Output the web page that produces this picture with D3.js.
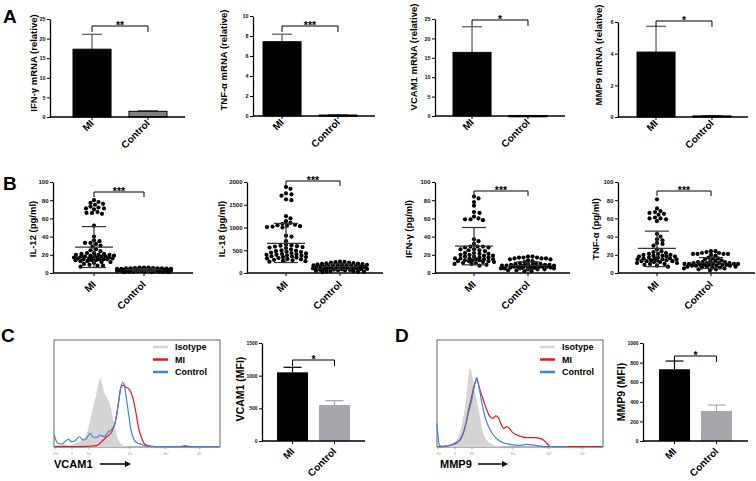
<!DOCTYPE html>
<html><head><meta charset="utf-8">
<script src="https://cdn.jsdelivr.net/npm/d3@7"></script>
<style>body{margin:0;background:#fff}svg{display:block}text{font-family:'Liberation Sans',Arial,Helvetica,sans-serif}</style>
</head><body><svg id="c" width="756" height="481"></svg>
<script>
// ================= DATA =================
const groups = ["MI", "Control"];

// Panel A : relative mRNA (mean, SEM)
const mrnaLabels = ["IFN-γ mRNA (relative)", "TNF-α mRNA (relative)", "VCAM1 mRNA (relative)", "MMP9 mRNA (relative)"];
const mrnaMean = [[17.3, 1.45], [7.43, 0.1], [16.4, 0.1], [4.1, 0.07]];
const mrnaErr = [[3.8, 0.15], [0.75, 0.02], [6.6, 0.02], [1.63, 0.02]];
const mrnaTicks = [[0, 5, 10, 15, 20, 25], [0, 2, 4, 6, 8, 10], [0, 5, 10, 15, 20, 25], [0, 2, 4, 6]];
const mrnaSig = ["**", "***", "*", "*"];

// Panel B : serum cytokines (individual points, mean, SD)
const cytoLabels = ["IL-12 (pg/ml)", "IL-18 (pg/ml)", "IFN-γ (pg/ml)", "TNF-α (pg/ml)"];
const cytoTicks = [[0, 20, 40, 60, 80, 100], [0, 500, 1000, 1500, 2000], [0, 20, 40, 60, 80, 100], [0, 20, 40, 60, 80, 100]];
const il12MI = [80, 78, 77, 76, 75, 73, 72, 71, 71, 70, 67, 66, 66, 65, 52, 40, 36, 35, 33, 33, 32, 30, 29, 26, 25, 24, 22, 22, 21, 21, 20, 20, 20, 19, 19, 19, 18, 18, 18, 18, 17, 17, 17, 16, 16, 16, 16, 15, 15, 15, 15, 14, 14, 14, 13, 13, 12, 12, 11, 10, 9, 8, 8, 7];
const il12Ctrl = [6, 6, 5.8, 5.5, 5.5, 5.2, 5, 5, 5, 4.8, 4.6, 4.5, 4.5, 4.3, 4.2, 4, 4, 4, 3.9, 3.8, 3.6, 3.5, 3.5, 3.4, 3.3, 3.2, 3, 3, 3, 2.9, 2.8, 2.7, 2.6, 2.5, 2.5, 2.4, 2.3, 2.2, 2, 2, 2, 1.9, 1.8, 1.6, 1.5, 1.4, 1.2, 1, 1, 0.8];
const il18MI = [1890, 1850, 1750, 1730, 1700, 1620, 1600, 1250, 1200, 1140, 1100, 1080, 1060, 1050, 1040, 1030, 1020, 1010, 1000, 820, 800, 700, 620, 610, 600, 590, 580, 570, 560, 550, 520, 500, 490, 480, 470, 460, 450, 440, 430, 420, 410, 400, 400, 390, 380, 370, 360, 350, 350, 340, 330, 320, 310, 300, 290, 280, 270, 260, 250];
const il18Ctrl = [250, 245, 238, 230, 226, 220, 214, 205, 200, 198, 192, 185, 180, 176, 170, 168, 160, 155, 150, 148, 142, 140, 136, 130, 128, 125, 120, 118, 112, 110, 105, 100, 98, 95, 90, 88, 82, 80, 75, 70, 66, 60, 55, 50, 45, 40, 35, 30, 25, 20];
const ifngMI = [84, 82, 78, 74, 67, 66, 62, 60, 59, 59, 58, 37, 35, 32, 29, 29, 29, 28, 28, 26, 26, 25, 25, 24, 22, 22, 21, 21, 20, 20, 19, 19, 18, 18, 17, 17, 16, 16, 16, 15, 15, 15, 14, 14, 14, 13, 13, 13, 12, 12, 11, 11, 10, 10, 9, 8];
const ifngCtrl = [18, 18, 17, 17, 17, 16, 16, 16, 15, 15, 14, 13, 12, 11, 11, 10, 10, 10, 9, 9, 9, 9, 8, 8, 8, 8, 8, 8, 7, 7, 7, 7, 7, 7, 6, 6, 6, 6, 6, 5, 5, 5, 5, 4, 4, 4, 3, 3, 2, 2];
const tnfMI = [81, 71, 68, 67, 66, 65, 64, 61, 60, 60, 59, 57, 43, 40, 37, 36, 33, 32, 30, 26, 24, 23, 22, 21, 21, 20, 20, 19, 19, 18, 18, 18, 17, 17, 16, 16, 16, 15, 15, 15, 14, 14, 14, 13, 13, 13, 12, 12, 11, 11, 10, 10, 9, 8, 7];
const tnfCtrl = [24, 24, 23, 22, 22, 21, 21, 21, 21, 20, 19, 17, 16, 16, 15, 14, 13, 13, 12, 12, 12, 11, 11, 11, 11, 10, 10, 10, 10, 10, 9, 9, 9, 9, 9, 8, 8, 8, 8, 7, 7, 7, 6, 6, 6, 5, 5, 4, 4, 3];
const cytoPoints = [[il12MI, il12Ctrl], [il18MI, il18Ctrl], [ifngMI, ifngCtrl], [tnfMI, tnfCtrl]];
// [mean, upper SD, lower SD] per group
const cytoStats = [
  [[28.5, 51, 6], [3.5, 5, 2]],
  [[650, 1090, 230], [140, 200, 80]],
  [[29.5, 50, 9], [8, 12, 4]],
  [[27, 46, 7], [11, 17, 5]]
];

// Panel C/D : flow cytometry histograms (channel, % of max)
const histLegend = ["Isotype", "MI", "Control"];
const histTickCh = [6, 111, 216, 469, 691, 900];
const histTickLab = ["−10²", "0", "10²", "10³", "10⁴", "10⁵"];
const vcamIsoCh = [6, 57, 99, 140, 171, 197, 212, 226, 242, 257, 270, 284, 296, 308, 325, 339, 356, 370, 387, 403, 424, 458];
const vcamIsoPct = [0.9, 2.8, 1.6, 4.0, 6.5, 11.2, 17.4, 26.8, 37.7, 47.0, 55.8, 64.2, 59.5, 51.7, 47.0, 42.3, 33.0, 22.1, 11.2, 5.0, 1.9, 0.3];
const vcamMiCh = [4, 139, 201, 263, 284, 304, 325, 356, 376, 391, 403, 413, 428, 444, 458, 473, 490, 506, 520, 541, 561, 592, 654, 1020];
const vcamMiPct = [0.3, 0.3, 0.6, 1.2, 3.5, 6.5, 9.6, 14.3, 22.1, 34.6, 47.0, 55.8, 57.9, 55.8, 54.8, 51.7, 43.9, 31.5, 19.0, 8.1, 2.5, 0.9, 0.3, 0.3];
const vcamCtrlCh = [2, 20, 47, 68, 88, 109, 130, 156, 181, 201, 222, 243, 267, 284, 309, 335, 356, 372, 387, 399, 411, 424, 436, 448, 461, 473, 490, 510, 541, 572, 634, 777, 808, 839, 1020];
const vcamCtrlPct = [11.2, 4.0, 2.8, 5.0, 7.2, 5.0, 5.9, 9.6, 6.5, 8.1, 12.8, 9.1, 9.1, 11.2, 9.6, 14.3, 16.5, 20.6, 29.9, 42.3, 54.8, 60.5, 55.8, 43.9, 29.9, 17.5, 8.1, 4.0, 2.5, 0.9, 0.3, 0.3, 1.2, 0.3, 0.3];
const mmpIsoCh = [60, 91, 111, 132, 146, 159, 173, 183, 193, 204, 216, 228, 245, 261, 276, 290, 307, 337, 368, 409];
const mmpIsoPct = [0.3, 2.8, 5.0, 9.6, 15.9, 25.2, 37.7, 50.2, 65.7, 73.6, 67.3, 56.4, 43.9, 31.5, 19.0, 11.2, 6.5, 2.8, 0.9, 0.3];
const mmpMiCh = [8, 60, 101, 142, 162, 179, 195, 214, 230, 245, 265, 286, 307, 327, 344, 364, 381, 395, 413, 430, 446, 467, 492, 522, 553, 594, 635, 656, 677, 693, 718, 1020];
const mmpMiPct = [0.3, 0.9, 2.8, 6.5, 12.8, 22.1, 34.6, 47.0, 57.9, 62.6, 53.3, 43.9, 34.6, 28.3, 26.8, 29.0, 26.8, 21.5, 17.5, 19.0, 17.5, 13.4, 11.2, 9.6, 8.7, 8.7, 8.1, 6.5, 3.5, 0.9, 0.3, 0.3];
const mmpCtrlCh = [0, 14, 29, 60, 91, 122, 152, 173, 193, 214, 230, 245, 257, 270, 286, 302, 323, 347, 378, 409, 450, 512, 553, 594, 635, 677, 800];
const mmpCtrlPct = [22.1, 1.9, 0.3, 0.9, 1.9, 4.0, 9.6, 19.0, 31.5, 43.9, 56.4, 65.1, 57.9, 47.0, 34.6, 25.2, 17.5, 11.2, 6.5, 4.0, 2.5, 1.6, 2.5, 1.9, 0.9, 0.3, 0.3];

// Panel C/D : MFI bar charts
const mfiLabels = ["VCAM1 (MFI)", "MMP9 (MFI)"];
const mfiMean = [[1051, 551], [732, 306]];
const mfiErr = [[77, 66], [84, 61]];
const mfiTicks = [[0, 500, 1000, 1500], [0, 200, 400, 600, 800, 1000]];
const mfiSig = ["*", "*"];
const markerNames = ["VCAM1", "MMP9"];

// ================= DRAW =================
const FF = "'Liberation Sans', Arial, Helvetica, sans-serif";
const svg = d3.select("#c");

function yAxis(g, y, ticks, x, fs) {
  const a = g.append("g").attr("transform", `translate(${x},0)`)
    .call(d3.axisLeft(y).tickValues(ticks).tickSize(3).tickSizeOuter(0).tickPadding(1.5).tickFormat(d3.format("d")));
  a.select(".domain").attr("stroke", "#000").attr("stroke-width", 1.3);
  a.selectAll(".tick line").attr("stroke", "#000").attr("stroke-width", 1);
  a.selectAll(".tick text").attr("font-size", fs).attr("font-weight", "bold").attr("font-family", FF).attr("fill", "#111");
}
function xAxis(g, x0, x1, y0, centers, dy) {
  g.append("line").attr("x1", x0).attr("x2", x1).attr("y1", y0).attr("y2", y0).attr("stroke", "#000").attr("stroke-width", 1.3);
  centers.forEach((c, i) => {
    g.append("line").attr("x1", c).attr("x2", c).attr("y1", y0).attr("y2", y0 + 3).attr("stroke", "#000").attr("stroke-width", 1);
    g.append("text").attr("transform", `translate(${c + 2.5},${y0 + dy}) rotate(-45)`).attr("text-anchor", "end")
      .attr("font-size", 10).attr("font-weight", "bold").text(groups[i]);
  });
}
function yLabel(g, text, x, y, fs) {
  g.append("text").attr("transform", `translate(${x},${y}) rotate(-90)`).attr("text-anchor", "middle")
    .attr("font-size", fs).attr("font-weight", "bold").text(text);
}
function bracket(g, xa, xb, y, drop, star) {
  g.append("path").attr("d", `M${xa},${y + drop}V${y}H${xb}V${y + drop}`).attr("fill", "none").attr("stroke", "#000").attr("stroke-width", 1);
  g.append("text").attr("x", (xa + xb) / 2).attr("y", y + 2.5).attr("text-anchor", "middle").attr("font-size", 10.5).attr("font-weight", "bold").text(star);
}
function panelLetter(t, x, y) {
  svg.append("text").attr("x", x).attr("y", y).attr("font-size", 19).attr("font-weight", "bold").text(t);
}

// ---- Panel A ----
panelLetter("A", 3, 23);
const layA = [
  {ax: 50, ex: 185, b0: 73, b1: 167, top: 19, bot: 117, lx: 37, ly: 63, br: 26},
  {ax: 253, ex: 375, b0: 263, b1: 357, top: 16, bot: 116, lx: 227, ly: 60, br: 26},
  {ax: 435, ex: 565, b0: 453, b1: 547, top: 19, bot: 116, lx: 417, ly: 57, br: 20},
  {ax: 618, ex: 748, b0: 637, b1: 731, top: 22, bot: 117, lx: 602, ly: 55, br: 21}
];
layA.forEach((L, k) => {
  const g = svg.append("g");
  const ticks = mrnaTicks[k];
  const y = d3.scaleLinear().domain([0, ticks[ticks.length - 1]]).range([L.bot, L.top]);
  const x = d3.scaleBand().domain(groups).range([L.b0, L.b1]).paddingInner(0.32).paddingOuter(0);
  const bw = x.bandwidth();
  groups.forEach((gr, i) => {
    const v = mrnaMean[k][i], e = mrnaErr[k][i], cx = x(gr) + bw / 2;
    g.append("line").attr("x1", cx).attr("x2", cx).attr("y1", y(v)).attr("y2", y(v + e)).attr("stroke", "#555").attr("stroke-width", 1.2);
    g.append("line").attr("x1", cx - 10).attr("x2", cx + 10).attr("y1", y(v + e)).attr("y2", y(v + e)).attr("stroke", "#555").attr("stroke-width", 1.2);
    const fill = (k === 0 && i === 1) ? "#808080" : "#000";
    g.append("rect").attr("x", x(gr)).attr("width", bw).attr("y", y(v)).attr("height", Math.max(1.2, L.bot - y(v)))
      .attr("fill", fill).attr("stroke", "#000").attr("stroke-width", 1);
  });
  yAxis(g, y, ticks, L.ax, 5.5);
  xAxis(g, L.ax, L.ex, L.bot, groups.map(gr => x(gr) + bw / 2), 7);
  yLabel(g, mrnaLabels[k], L.lx, L.ly, 9.5);
  bracket(g, x("MI") + bw / 2, x("Control") + bw / 2, L.br, 6, mrnaSig[k]);
});

// ---- Panel B ----
panelLetter("B", 3, 190);
const layB = [
  {ax: 53, ex: 193, c: [94, 144], top: 182, bot: 273, lx: 36, ly: 229, br: 192},
  {ax: 247, ex: 383, c: [286, 340], top: 182, bot: 273, lx: 225, ly: 229, br: 181},
  {ax: 435, ex: 570, c: [474, 528], top: 182, bot: 273, lx: 412, ly: 229, br: 191},
  {ax: 618, ex: 755, c: [657, 711], top: 182, bot: 273, lx: 599, ly: 229, br: 191}
];
// bounded, row-style beeswarm (elliptical spacing: wider horizontally, like GraphPad)
function swarm(vals, y, cx, sx, sy, W) {
  const pts = vals.map(v => ({v, y: y(v)})).sort((a, b) => d3.descending(a.v, b.v));
  const placed = [];
  const dist = (q, x, yy) => Math.hypot((q.x - x) / sx, (q.y - yy) / sy);
  for (const p of pts) {
    let bestO = 0, bestD = -1;
    for (let k = 0; ; k++) {
      const o = k === 0 ? 0 : (k % 2 ? 1 : -1) * Math.ceil(k / 2) * 0.5;
      if (Math.abs(o) > W) break;
      const md = placed.length ? d3.min(placed, q => dist(q, cx + o, p.y)) : Infinity;
      if (md >= 1) { bestO = o; bestD = md; break; }
      if (md > bestD + 0.08) { bestD = md; bestO = o; }
    }
    p.x = cx + bestO;
    placed.push(p);
  }
  return placed;
}
layB.forEach((L, k) => {
  const g = svg.append("g");
  const ticks = cytoTicks[k];
  const y = d3.scaleLinear().domain([0, ticks[ticks.length - 1]]).range([L.bot, L.top]);
  groups.forEach((gr, i) => {
    const pts = i === 0 ? swarm(cytoPoints[k][i], y, L.c[i], 5.2, 3.6, 20) : swarm(cytoPoints[k][i], y, L.c[i], 4.2, 3.2, 27);
    g.selectAll(null).data(pts).enter().append("circle").attr("cx", d => d.x).attr("cy", d => d.y).attr("r", 2.1).attr("fill", "#000");
    const [m, hi, lo] = cytoStats[k][i];
    const cx = L.c[i];
    const col = "#333", w = 1.2;
    g.append("line").attr("x1", cx - 19).attr("x2", cx + 19).attr("y1", y(m)).attr("y2", y(m)).attr("stroke", col).attr("stroke-width", w);
    g.append("line").attr("x1", cx).attr("x2", cx).attr("y1", y(lo)).attr("y2", y(hi)).attr("stroke", col).attr("stroke-width", w);
    [hi, lo].forEach(v => g.append("line").attr("x1", cx - 12).attr("x2", cx + 12).attr("y1", y(v)).attr("y2", y(v)).attr("stroke", col).attr("stroke-width", w));
  });
  yAxis(g, y, ticks, L.ax, 6);
  xAxis(g, L.ax, L.ex, L.bot, L.c, 12);
  yLabel(g, cytoLabels[k], L.lx, L.ly, 9.5);
  bracket(g, L.c[0], L.c[1], L.br, 5, "***");
});

// ---- Panels C / D : histograms ----
const histColors = ["#d4d4d4", "#e8161d", "#3a86d8"];
const layH = [
  {x0: 54, x1: 220, lxL: 153, lxT: 175, arrow: [100, 131], letter: [1, 342], curves: [[vcamIsoCh, vcamIsoPct], [vcamMiCh, vcamMiPct], [vcamCtrlCh, vcamCtrlPct]]},
  {x0: 437, x1: 603, lxL: 540, lxT: 562, arrow: [478, 508], letter: [395, 342], curves: [[mmpIsoCh, mmpIsoPct], [mmpMiCh, mmpMiPct], [mmpCtrlCh, mmpCtrlPct]]}
];
const hTop = 340, hBot = 447;
layH.forEach((L, k) => {
  panelLetter(k === 0 ? "C" : "D", L.letter[0], L.letter[1]);
  const g = svg.append("g");
  const x = d3.scaleLinear().domain([0, 1024]).range([L.x0, L.x1]);
  const y = d3.scaleLinear().domain([0, 100]).range([hBot, hTop]);
  g.append("rect").attr("x", L.x0).attr("y", hTop).attr("width", L.x1 - L.x0).attr("height", hBot - hTop)
    .attr("fill", "none").attr("stroke", "#555").attr("stroke-width", 0.9);
  const [iso, mi, ctrl] = L.curves;
  const area = d3.area().x(d => x(d[0])).y0(hBot).y1(d => y(d[1])).curve(d3.curveMonotoneX);
  const line = d3.line().x(d => x(d[0])).y(d => y(d[1])).curve(d3.curveMonotoneX);
  g.append("path").attr("d", area(d3.zip(iso[0], iso[1]))).attr("fill", histColors[0]);
  g.append("path").attr("d", line(d3.zip(mi[0], mi[1]))).attr("fill", "none").attr("stroke", histColors[1]).attr("stroke-width", 1.2);
  g.append("path").attr("d", line(d3.zip(ctrl[0], ctrl[1]))).attr("fill", "none").attr("stroke", histColors[2]).attr("stroke-width", 1.2);
  histTickCh.forEach((c, i) => {
    g.append("line").attr("x1", x(c)).attr("x2", x(c)).attr("y1", hBot).attr("y2", hBot + 2.5).attr("stroke", "#777").attr("stroke-width", 0.6);
    g.append("text").attr("x", x(c)).attr("y", hBot + 8).attr("text-anchor", "middle").attr("font-size", 3.5).attr("fill", "#888").text(histTickLab[i]);
    if (i >= 2 && i < histTickCh.length - 1) {
      const a = c, b = histTickCh[i + 1];
      for (let m = 2; m <= 9; m++) {
        const cm = a + (b - a) * Math.log10(m);
        g.append("line").attr("x1", x(cm)).attr("x2", x(cm)).attr("y1", hBot).attr("y2", hBot + 1.5).attr("stroke", "#999").attr("stroke-width", 0.5);
      }
    }
  });
  histLegend.forEach((t, i) => {
    const yy = 347 + i * 12.5;
    g.append("line").attr("x1", L.lxL).attr("x2", L.lxL + 15).attr("y1", yy).attr("y2", yy).attr("stroke", histColors[i]).attr("stroke-width", 2.5);
    g.append("text").attr("x", L.lxT).attr("y", yy + 3.3).attr("font-size", 9).attr("font-weight", "bold").text(t);
  });
  g.append("text").attr("x", L.x0 + (k === 0 ? 0 : 3)).attr("y", 468).attr("font-size", 11).attr("font-weight", "bold").text(markerNames[k]);
  g.append("line").attr("x1", L.arrow[0]).attr("x2", L.arrow[1] - 5).attr("y1", 464).attr("y2", 464).attr("stroke", "#000").attr("stroke-width", 1.5);
  g.append("path").attr("d", `M${L.arrow[1]},464L${L.arrow[1] - 6},461L${L.arrow[1] - 6},467Z`).attr("fill", "#000");
});

// ---- Panels C / D : MFI bars ----
const layM = [
  {ax: 262, ex: 365, b0: 277, b1: 350, top: 343, bot: 441, lx: 244, ly: 389, br: 360},
  {ax: 643, ex: 748, b0: 659, b1: 732, top: 343, bot: 441, lx: 625, ly: 392, br: 356}
];
const mfiColors = ["#000", "#a6a6ad"];
layM.forEach((L, k) => {
  const g = svg.append("g");
  const ticks = mfiTicks[k];
  const y = d3.scaleLinear().domain([0, ticks[ticks.length - 1]]).range([L.bot, L.top]);
  const x = d3.scaleBand().domain(groups).range([L.b0, L.b1]).paddingInner(0.26).paddingOuter(0);
  const bw = x.bandwidth();
  groups.forEach((gr, i) => {
    const v = mfiMean[k][i], e = mfiErr[k][i], cx = x(gr) + bw / 2;
    g.append("line").attr("x1", cx).attr("x2", cx).attr("y1", y(v)).attr("y2", y(v + e)).attr("stroke", mfiColors[i]).attr("stroke-width", 1.2);
    g.append("line").attr("x1", cx - 9).attr("x2", cx + 9).attr("y1", y(v + e)).attr("y2", y(v + e)).attr("stroke", mfiColors[i]).attr("stroke-width", 1.2);
    g.append("rect").attr("x", x(gr)).attr("width", bw).attr("y", y(v)).attr("height", L.bot - y(v)).attr("fill", mfiColors[i]);
  });
  yAxis(g, y, ticks, L.ax, 5);
  xAxis(g, L.ax, L.ex, L.bot, groups.map(gr => x(gr) + bw / 2), 11);
  yLabel(g, mfiLabels[k], L.lx, L.ly, 10.5);
  bracket(g, x("MI") + bw / 2, x("Control") + bw / 2, L.br, 6, mfiSig[k]);
});
</script></body></html>
